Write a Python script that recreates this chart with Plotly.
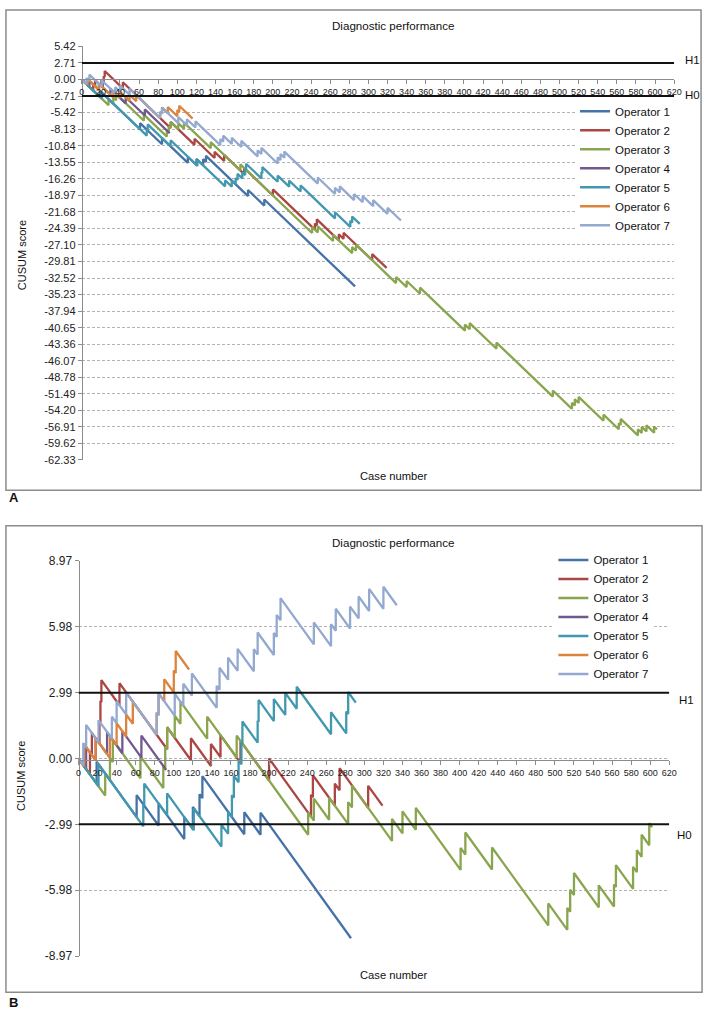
import plotly.graph_objects as go

W, H = 713, 1017
names = ["Operator 1", "Operator 2", "Operator 3", "Operator 4", "Operator 5", "Operator 6", "Operator 7"]
colors = ["#4572A7", "#AA4643", "#89A54E", "#71588F", "#4198AF", "#DB843D", "#93A9CF"]

# ---- case numbers of the line vertices (shared by both panels) ----
op1_x = [0, 19, 19, 61, 61, 84, 84, 111, 111, 120, 120, 127, 127, 130, 130, 174, 174, 191, 191, 286]
op2_x = [0, 12, 12, 14, 14, 22, 22, 23, 23, 24, 24, 43, 43, 93, 93, 118, 118, 139, 139, 149, 149,
         170, 170, 200, 200, 244, 244, 246, 246, 269, 269, 274, 274, 304, 304, 319]
op3_x = [0, 28, 28, 33, 33, 36, 36, 65, 65, 89, 89, 91, 91, 93, 93, 101, 101, 107, 107, 135, 135,
         166, 166, 241, 241, 247, 247, 263, 263, 283, 283, 287, 287, 329, 329, 340, 340, 354, 354,
         401, 401, 406, 406, 434, 434, 493, 493, 513, 513, 516, 516, 520, 520, 546, 546, 562, 562,
         564, 564, 582, 582, 586, 586, 591, 591, 599, 599, 602]
op4_x = [0, 8, 8, 18, 18, 30, 30, 46, 46, 66, 66, 92]
op5_x = [0, 21, 21, 68, 68, 69, 69, 93, 93, 121, 121, 150, 150, 157, 157, 161, 161, 163, 163, 168, 168,
         171, 171, 172, 172, 188, 188, 189, 189, 205, 205, 217, 217, 229, 229, 265, 265, 281, 281,
         283, 283, 291]
op6_x = [0, 6, 6, 18, 18, 33, 33, 40, 40, 50, 50, 57, 57, 82, 82, 84, 84, 90, 90, 100, 100, 102, 102, 116]
op7_x = [0, 5, 5, 8, 8, 21, 21, 35, 35, 40, 40, 50, 50, 82, 82, 84, 84, 101, 101, 110, 110, 119, 119,
         145, 145, 148, 148, 157, 157, 167, 167, 184, 184, 188, 188, 205, 205, 208, 208, 212, 212,
         247, 247, 265, 265, 270, 270, 285, 285, 294, 294, 305, 305, 320, 320, 334]

# ---- Panel A CUSUM scores ----
a1_y = [0, -2.85, -1.85, -8.15, -7.15, -10.6, -9.6, -13.65, -12.65, -14.0, -13.0, -14.05, -13.05,
        -13.5, -12.5, -19.1, -18.1, -20.65, -19.65, -33.9]
a2_y = [0, -1.8, -0.8, -1.1, -0.1, -1.3, -0.3, -0.45, 0.55, 0.4, 1.4, -1.45, -0.45, -7.95, -6.95,
        -10.7, -9.7, -12.85, -11.85, -13.35, -12.35, -15.5, -14.5, -19.0, -18.0, -24.6, -23.6,
        -23.9, -22.9, -26.35, -25.35, -26.1, -25.1, -29.6, -28.6, -30.85]
a3_y = [0, -4.2, -3.2, -3.95, -2.95, -3.4, -2.4, -6.75, -5.75, -9.35, -8.35, -8.65, -7.65, -7.95, -6.95,
        -8.15, -7.15, -8.05, -7.05, -11.25, -10.25, -14.9, -13.9, -25.15, -24.15, -25.05, -24.05,
        -26.45, -25.45, -28.45, -27.45, -28.05, -27.05, -33.35, -32.35, -34.0, -33.0, -35.1, -34.1,
        -41.15, -40.15, -40.9, -39.9, -44.1, -43.1, -51.95, -50.95, -53.95, -52.95, -53.4, -52.4,
        -53.0, -52.0, -55.9, -54.9, -57.3, -56.3, -56.6, -55.6, -58.3, -57.3, -57.9, -56.9,
        -57.65, -56.65, -57.85, -56.85, -57.3]
a4_y = [0, -1.2, -0.2, -1.7, -0.7, -2.5, -1.5, -3.9, -2.9, -5.9, -4.9, -8.8]
a5_y = [0, -3.15, -2.15, -9.2, -8.2, -8.35, -7.35, -10.95, -9.95, -14.15, -13.15, -17.5, -16.5,
        -17.55, -16.55, -17.15, -16.15, -16.45, -15.45, -16.2, -15.2, -15.65, -14.65, -14.8, -13.8,
        -16.2, -15.2, -15.35, -14.35, -16.75, -15.75, -17.55, -16.55, -18.35, -17.35, -22.75, -21.75,
        -24.15, -23.15, -23.45, -22.45, -23.65]
a6_y = [0, -0.9, 0.1, -1.7, -0.7, -2.95, -1.95, -3.0, -2.0, -3.5, -2.5, -3.55, -2.55, -6.3, -5.3,
        -5.6, -4.6, -5.5, -4.5, -6.0, -5.0, -5.3, -4.3, -6.4]
a7_y = [0, -0.75, 0.25, -0.2, 0.8, -1.15, -0.15, -2.25, -1.25, -2.0, -1.0, -2.5, -1.5, -6.3, -5.3,
        -5.6, -4.6, -7.15, -6.15, -7.5, -6.5, -7.85, -6.85, -10.75, -9.75, -10.2, -9.2, -10.55, -9.55,
        -11.05, -10.05, -12.6, -11.6, -12.2, -11.2, -13.75, -12.75, -13.2, -12.2, -12.8, -11.8,
        -17.05, -16.05, -18.75, -17.75, -18.5, -17.5, -19.75, -18.75, -20.1, -19.1, -20.75, -19.75,
        -22.0, -21.0, -23.1]

# ---- Panel B CUSUM scores ----
b1_y = [0, -1.14, -0.14, -2.66, -1.66, -3.04, -2.04, -3.66, -2.66, -3.2, -2.2, -2.62, -1.62,
        -1.8, -0.8, -3.44, -2.44, -3.46, -2.46, -8.16]
b2_y = [0, -0.72, 0.28, 0.16, 1.16, 0.68, 1.68, 1.62, 2.62, 2.56, 3.56, 2.42, 3.42, 0.42, 1.42,
        -0.08, 0.92, -0.34, 0.66, 0.06, 1.06, -0.2, 0.8, -1.0, 0.0, -2.64, -1.64, -1.76, -0.76,
        -2.14, -1.14, -1.44, -0.44, -2.24, -1.24, -2.14]
b3_y = [0, -1.68, -0.68, -0.98, 0.02, -0.16, 0.84, -0.9, 0.1, -1.34, -0.34, -0.46, 0.54, 0.42, 1.42,
        0.94, 1.94, 1.58, 2.58, 0.9, 1.9, 0.04, 1.04, -3.46, -2.46, -2.82, -1.82, -2.78, -1.78,
        -2.98, -1.98, -2.22, -1.22, -3.74, -2.74, -3.4, -2.4, -3.24, -2.24, -5.06, -4.06,
        -4.36, -3.36, -5.04, -4.04, -7.58, -6.58, -7.78, -6.78, -6.96, -5.96, -6.2, -5.2,
        -6.76, -5.76, -6.72, -5.72, -5.84, -4.84, -5.92, -4.92, -5.16, -4.16, -4.46, -3.46,
        -3.94, -2.94, -3.12]
b4_y = [0, -0.48, 0.52, -0.08, 0.92, 0.2, 1.2, 0.24, 1.24, 0.04, 1.04, -0.52]
b5_y = [0, -1.26, -0.26, -3.08, -2.08, -2.14, -1.14, -2.58, -1.58, -3.26, -2.26, -4.0, -3.0,
        -3.42, -2.42, -2.66, -1.66, -1.78, -0.78, -1.08, -0.08, -0.26, 0.74, 0.68, 1.68,
        0.72, 1.72, 1.66, 2.66, 1.7, 2.7, 1.98, 2.98, 2.26, 3.26, 1.1, 2.1, 1.14, 2.14,
        2.02, 3.02, 2.54]
b6_y = [0, -0.36, 0.64, -0.08, 0.92, 0.02, 1.02, 0.6, 1.6, 1.0, 2.0, 1.58, 2.58, 1.08, 2.08,
        1.96, 2.96, 2.6, 3.6, 3.0, 4.0, 3.88, 4.88, 4.04]
b7_y = [0, -0.3, 0.7, 0.52, 1.52, 0.74, 1.74, 0.9, 1.9, 1.6, 2.6, 2.0, 3.0, 1.08, 2.08, 1.96, 2.96,
        1.94, 2.94, 2.4, 3.4, 2.86, 3.86, 2.3, 3.3, 3.12, 4.12, 3.58, 4.58, 3.98, 4.98, 3.96, 4.96,
        4.72, 5.72, 4.7, 5.7, 5.52, 6.52, 6.28, 7.28, 5.18, 6.18, 5.1, 6.1, 5.8, 6.8, 5.9, 6.9,
        6.36, 7.36, 6.7, 7.7, 6.8, 7.8, 6.96]

xs_all = [op1_x, op2_x, op3_x, op4_x, op5_x, op6_x, op7_x]
A_y = [a1_y, a2_y, a3_y, a4_y, a5_y, a6_y, a7_y]
B_y = [b1_y, b2_y, b3_y, b4_y, b5_y, b6_y, b7_y]

a_ticks = [5.42, 2.71, 0.0, -2.71, -5.42, -8.13, -10.84, -13.55, -16.26, -18.97, -21.68, -24.39,
           -27.10, -29.81, -32.52, -35.23, -37.94, -40.65, -43.36, -46.07, -48.78, -51.49, -54.20,
           -56.91, -59.62, -62.33]
b_ticks = [8.97, 5.98, 2.99, 0.0, -2.99, -5.98, -8.97]
x_ticks = [0, 20, 40, 60, 80, 100, 120, 140, 160, 180, 200, 220, 240, 260, 280, 300, 320, 340, 360,
           380, 400, 420, 440, 460, 480, 500, 520, 540, 560, 580, 600, 620]
H_A = [2.71, -2.71]
H_B = [2.99, -2.99]


def px(x):
    return x / W


def py(y):
    return 1 - y / H


FONT = "Liberation Sans"
fig = go.Figure()

for i in range(7):
    fig.add_trace(go.Scatter(x=xs_all[i], y=A_y[i], mode="lines", name=names[i],
                             line=dict(color=colors[i], width=2.3),
                             xaxis="x", yaxis="y", legend="legend"))
for i in range(7):
    fig.add_trace(go.Scatter(x=xs_all[i], y=B_y[i], mode="lines", name=names[i],
                             line=dict(color=colors[i], width=2.3),
                             xaxis="x2", yaxis="y2", legend="legend2"))

xcommon = dict(range=[0, 620], tickvals=x_ticks, tickangle=0, showgrid=False, showline=True,
               linecolor="#8c8c8c", linewidth=1, ticks="outside", tickcolor="#8c8c8c", ticklen=4,
               zeroline=False, tickfont=dict(family=FONT, size=9, color="#222"))
ycommon = dict(showline=True, linecolor="#8c8c8c", linewidth=1, ticks="outside", tickcolor="#8c8c8c",
               ticklen=4, zeroline=False, showgrid=True, gridcolor="#b3b3b3", griddash="3px,2px",
               gridwidth=1)

fig.update_layout(
    xaxis=dict(domain=[px(80), px(681.7)], anchor="free", position=py(73.3), **xcommon),
    yaxis=dict(domain=[py(459.3), py(40)], range=[-62.33, 5.42], anchor="free", position=px(80),
               tickvals=a_ticks, ticktext=["%.2f" % v for v in a_ticks],
               tickfont=dict(family=FONT, size=11, color="#222"), **ycommon),
    xaxis2=dict(domain=[px(76.7), px(676.7)], anchor="free", position=py(763.3), **xcommon),
    yaxis2=dict(domain=[py(962.3), py(561.7)], range=[-8.97, 8.97], anchor="free", position=px(76.7),
                tickvals=b_ticks, ticktext=["%.2f" % v for v in b_ticks],
                tickfont=dict(family=FONT, size=12, color="#222"), **ycommon),
)

shapes = []
shapes.append(dict(type="rect", xref="paper", yref="paper", x0=px(3), x1=px(709), y0=py(490), y1=py(3),
                   line=dict(color="#8c8c8c", width=1.5)))
shapes.append(dict(type="rect", xref="paper", yref="paper", x0=px(3), x1=px(710), y0=py(999), y1=py(526),
                   line=dict(color="#8c8c8c", width=1.5)))
for v in H_A:
    shapes.append(dict(type="line", xref="x", yref="y", x0=0, x1=620, y0=v, y1=v,
                       line=dict(color="#111", width=2)))
for v in H_B:
    shapes.append(dict(type="line", xref="x2", yref="y2", x0=0, x1=620, y0=v, y1=v,
                       line=dict(color="#111", width=2)))

annotations = []


def txt(x, y, s, size=12, bold=False, xanchor="center", angle=0):
    annotations.append(dict(x=px(x), y=py(y), xref="paper", yref="paper",
                            text=("<b>%s</b>" % s) if bold else s,
                            showarrow=False, xanchor=xanchor, yanchor="middle", textangle=angle,
                            font=dict(family=FONT, size=size, color="#111")))


txt(396.5, 19, "Diagnostic performance", size=11.6)
txt(396.5, 542.7, "Diagnostic performance", size=11.6)
txt(396.5, 476, "Case number", size=11.2)
txt(396.5, 982, "Case number", size=11.2)
txt(19, 252, "CUSUM score", size=11, angle=-90)
txt(19, 780, "CUSUM score", size=11, angle=-90)
txt(691, 54, "H1", size=11.5, xanchor="left")
txt(691, 89, "H0", size=11.5, xanchor="left")
txt(685, 703, "H1", size=11.5, xanchor="left")
txt(683, 840, "H0", size=11.5, xanchor="left")
txt(4, 497, "A", size=13, bold=True, xanchor="left")
txt(4, 1009, "B", size=13, bold=True, xanchor="left")

fig.update_layout(
    width=W, height=H, margin=dict(l=0, r=0, t=0, b=0),
    paper_bgcolor="white", plot_bgcolor="white",
    shapes=shapes, annotations=annotations,
    legend=dict(x=px(581), y=py(91), xanchor="left", yanchor="top", bgcolor="white",
                font=dict(family=FONT, size=11.5, color="#111"), itemwidth=30, tracegroupgap=0),
    legend2=dict(x=px(559), y=py(546), xanchor="left", yanchor="top", bgcolor="white",
                 font=dict(family=FONT, size=11.5, color="#111"), itemwidth=30, tracegroupgap=0),
)

fig.write_html("out.html", config={"displayModeBar": False},
               post_script="document.body.style.margin='0';document.body.style.overflow='hidden';")
